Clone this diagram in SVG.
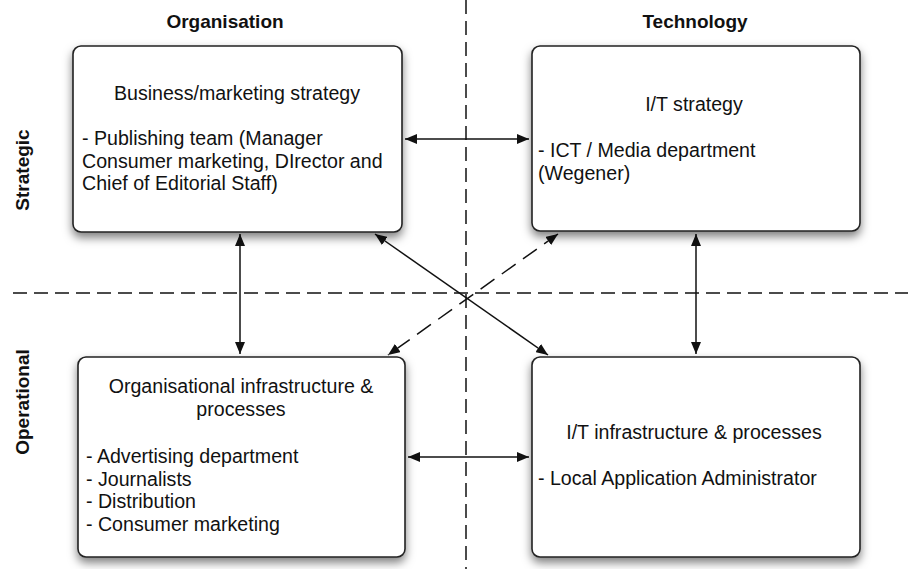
<svg xmlns="http://www.w3.org/2000/svg" width="908" height="569" viewBox="0 0 908 569">
<style>
  text { font-family: "Liberation Sans", Arial, sans-serif; fill: #111; }
  .hdr { font-size: 19px; font-weight: bold; }
  .body { font-size: 19.6px; }
  .box { fill: #fff; stroke: #222; stroke-width: 1.6; filter: url(#sh); }
  .axis { stroke: #111; stroke-width: 1.5; stroke-dasharray: 14 7; fill: none; }
  .conn { stroke: #111; stroke-width: 1.5; fill: none; marker-start: url(#ah); marker-end: url(#ah); }
  .dash { stroke-dasharray: 17 9; }
</style>
<defs>
  <filter id="sh" x="-10%" y="-10%" width="120%" height="135%">
    <feDropShadow dx="0" dy="5" stdDeviation="5" flood-color="#000" flood-opacity="0.5"/>
  </filter>
  <marker id="ah" viewBox="0 0 12 10" refX="12" refY="5" markerWidth="12" markerHeight="10" markerUnits="userSpaceOnUse" orient="auto-start-reverse">
    <path d="M0,0 L12,5 L0,10 z" fill="#111"/>
  </marker>
</defs>
<rect width="908" height="569" fill="#fff"/>

<g id="axes">
  <line class="axis" x1="466" y1="0" x2="466" y2="569"/>
  <line class="axis" x1="13" y1="293" x2="908" y2="293"/>
</g>

<g id="labels">
  <text class="hdr" x="225" y="28" text-anchor="middle">Organisation</text>
  <text class="hdr" x="695" y="28" text-anchor="middle">Technology</text>
  <text class="hdr" transform="translate(29,170) rotate(-90)" text-anchor="middle">Strategic</text>
  <text class="hdr" transform="translate(29,402) rotate(-90)" text-anchor="middle">Operational</text>
</g>

<g id="connectors">
  <line class="conn" x1="405" y1="139" x2="529" y2="139"/>
  <line class="conn" x1="408" y1="457" x2="529" y2="457"/>
  <line class="conn" x1="240" y1="234" x2="240" y2="354"/>
  <line class="conn" x1="696" y1="234" x2="696" y2="354"/>
  <line class="conn" x1="375" y1="234" x2="548" y2="355"/>
  <line class="conn dash" x1="558" y1="234" x2="388" y2="355"/>
</g>

<g id="business">
  <rect class="box" x="73" y="46" width="329" height="186" rx="8"/>
  <text class="body" x="237" y="100" text-anchor="middle">Business/marketing strategy</text>
  <text class="body" x="82" y="145">- Publishing team (Manager</text>
  <text class="body" x="82" y="167.5">Consumer marketing, DIrector and</text>
  <text class="body" x="82" y="190">Chief of Editorial Staff)</text>
</g>

<g id="itstrategy">
  <rect class="box" x="532" y="46" width="328" height="185" rx="8"/>
  <text class="body" x="694" y="111" text-anchor="middle">I/T strategy</text>
  <text class="body" x="538" y="157">- ICT / Media department</text>
  <text class="body" x="538" y="179.5">(Wegener)</text>
</g>

<g id="orginfra">
  <rect class="box" x="78" y="357" width="327" height="200" rx="8"/>
  <text class="body" x="241" y="393" text-anchor="middle">Organisational infrastructure &amp;</text>
  <text class="body" x="241" y="416" text-anchor="middle">processes</text>
  <text class="body" x="86" y="463">- Advertising department</text>
  <text class="body" x="86" y="485.5">- Journalists</text>
  <text class="body" x="86" y="508">- Distribution</text>
  <text class="body" x="86" y="530.5">- Consumer marketing</text>
</g>

<g id="itinfra">
  <rect class="box" x="532" y="357" width="328" height="200" rx="8"/>
  <text class="body" x="694" y="439" text-anchor="middle">I/T infrastructure &amp; processes</text>
  <text class="body" x="538" y="485">- Local Application Administrator</text>
</g>
</svg>
